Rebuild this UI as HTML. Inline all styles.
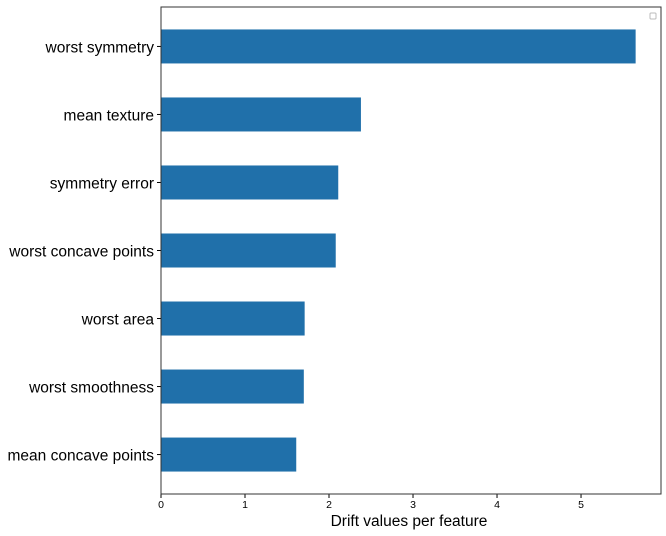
<!DOCTYPE html>
<html><head><meta charset="utf-8"><style>
body{margin:0;background:#fff;width:666px;height:531px;overflow:hidden}
svg{font-family:"Liberation Sans","DejaVu Sans",sans-serif}
</style></head><body>
<svg id="chart" width="666" height="531"></svg>
<script>
const categories=["worst symmetry","mean texture","symmetry error","worst concave points","worst area","worst smoothness","mean concave points"];
const values=[5.65,2.38,2.11,2.08,1.71,1.70,1.61];
const xTicks=[0,1,2,3,4,5];
const L=161,R=661,T=7,B=494,XMAX=5.952;
const NS="http://www.w3.org/2000/svg";
const svg=document.getElementById('chart');
const x=v=>L+v/XMAX*(R-L);
const step=(B-T)/(categories.length+0.16);
const y=i=>T+step*0.58+i*step;
function mk(t,a){const e=document.createElementNS(NS,t);for(const k in a)e.setAttribute(k,a[k]);svg.appendChild(e);return e;}
categories.forEach((c,i)=>{
 const r=mk('rect',{x:L,y:y(i)-step*0.25,width:x(values[i])-L,height:step*0.5,fill:'#2070aa'});
 
 
 const tk=mk('line',{x1:L-4,x2:L,y1:y(i),y2:y(i),stroke:'#000','stroke-width':1});
 
 
 const t=mk('text',{x:L-7,y:y(i)+6,'text-anchor':'end','font-size':'15.5px',fill:'#000'});
 t.textContent=c;
 
 
});
xTicks.forEach(v=>{
 const tk=mk('line',{x1:x(v),x2:x(v),y1:B,y2:B+4,stroke:'#000','stroke-width':1});
 
 
 const t=mk('text',{x:x(v),y:B+14,'text-anchor':'middle','font-size':'10.5px',fill:'#000'});
 t.textContent=v;
 
 
});
const fr=mk('rect',{x:L,y:T,width:R-L,height:B-T,fill:'none',stroke:'#333','stroke-width':1});


const lg=mk('rect',{x:650,y:13,width:6,height:6,fill:'#fff',stroke:'#bbb','stroke-width':1,rx:1});


const xt=mk('text',{x:(L+R)/2-2,y:526,'text-anchor':'middle','font-size':'15.5px',fill:'#000'});
xt.textContent='Drift values per feature';


</script>
</body></html>
